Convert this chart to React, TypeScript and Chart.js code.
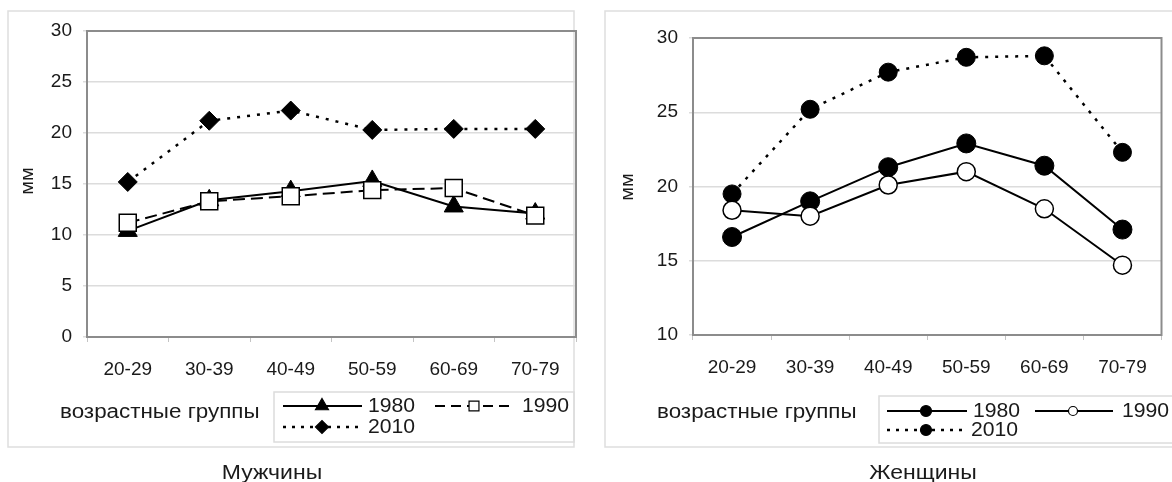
import React, { useEffect, useRef } from "react";
import { Chart, registerables } from "chart.js";

Chart.register(...registerables);

// ---------- data ----------
const ageGroups = ["20-29", "30-39", "40-49", "50-59", "60-69", "70-79"];
const seriesYears = ["1980", "1990", "2010"];

const men1980 = [10.4, 13.4, 14.3, 15.3, 12.8, 12.1];
const men1990 = [11.2, 13.3, 13.8, 14.4, 14.6, 11.9];
const men2010 = [15.2, 21.2, 22.2, 20.3, 20.4, 20.4];

const women1980 = [16.6, 19.0, 21.3, 22.9, 21.4, 17.1];
const women1990 = [18.4, 18.0, 20.1, 21.0, 18.5, 14.7];
const women2010 = [19.5, 25.2, 27.7, 28.7, 28.8, 22.3];

const menTicks = [0, 30, 5];
const womenTicks = [10, 30, 5];

const axisTitle = "мм";
const groupLabel = "возрастные группы";
const menTitle = "Мужчины";
const womenTitle = "Женщины";

// ---------- styling helpers ----------
const FONT = '"Liberation Sans", Arial, Helvetica, sans-serif';
const INK = "#1a1a1a";
const H = 482;

type Marker = "triangle" | "rect" | "rectRot" | "circle";

function drawText(
  ctx: CanvasRenderingContext2D,
  s: string,
  x: number,
  y: number,
  size: number,
  align: "left" | "center" | "right",
  sx: number,
  rotate = false
) {
  ctx.save();
  ctx.font = `${size}px ${FONT}`;
  ctx.fillStyle = INK;
  ctx.textBaseline = "middle";
  ctx.textAlign = "left";
  const w = ctx.measureText(s).width * sx;
  if (rotate) {
    ctx.translate(x, y);
    ctx.rotate(-Math.PI / 2);
    ctx.scale(sx, 1);
    ctx.fillText(s, -w / sx / 2, 0);
  } else {
    const left = align === "left" ? x : align === "center" ? x - w / 2 : x - w;
    ctx.translate(left, y);
    ctx.scale(sx, 1);
    ctx.fillText(s, 0, 0);
  }
  ctx.restore();
}

function drawMarker(
  ctx: CanvasRenderingContext2D,
  m: Marker,
  x: number,
  y: number,
  r: number,
  fill: string
) {
  ctx.save();
  ctx.setLineDash([]);
  ctx.lineWidth = 1.2;
  ctx.strokeStyle = "#000";
  ctx.fillStyle = fill;
  ctx.beginPath();
  if (m === "triangle") {
    ctx.moveTo(x, y - r);
    ctx.lineTo(x + r * 0.866, y + r * 0.5);
    ctx.lineTo(x - r * 0.866, y + r * 0.5);
    ctx.closePath();
  } else if (m === "rect") {
    const s = r * Math.SQRT1_2;
    ctx.rect(x - s, y - s, 2 * s, 2 * s);
  } else if (m === "rectRot") {
    ctx.moveTo(x - r, y);
    ctx.lineTo(x, y - r);
    ctx.lineTo(x + r, y);
    ctx.lineTo(x, y + r);
    ctx.closePath();
  } else {
    ctx.arc(x, y, r, 0, Math.PI * 2);
  }
  ctx.fill();
  ctx.stroke();
  ctx.restore();
}

interface LegendEntry {
  label: string;
  x1: number;
  x2: number;
  mx: number;
  tx: number;
  y: number;
  dash: number[];
  lw: number;
  marker: Marker;
  mr: number;
  fill: string;
}

interface Panel {
  width: number;
  plotLeft: number;
  plotRight: number;
  plotTop: number;
  plotBottom: number;
  ticks: number[];
  box: number[];
  legendBox: number[];
  axisTitlePos: number[];
  groupPos: number[];
  title: string;
  titlePos: number[];
  legend: LegendEntry[];
}

function makeChart(canvas: HTMLCanvasElement, panel: Panel, datasets: any[]) {
  const tickFont = { family: FONT, size: 19 };
  const decor = {
    id: "panelDecor",
    beforeDraw(chart: any) {
      const ctx: CanvasRenderingContext2D = chart.ctx;
      ctx.save();
      ctx.fillStyle = "#ffffff";
      ctx.fillRect(0, 0, chart.width, chart.height);
      ctx.strokeStyle = "#dedede";
      ctx.lineWidth = 1.5;
      const [bx, by, bw, bh] = panel.box;
      ctx.strokeRect(bx, by, bw, bh);
      ctx.restore();
    },
    beforeDatasetsDraw(chart: any) {
      const ctx: CanvasRenderingContext2D = chart.ctx;
      const a = chart.chartArea;
      ctx.save();
      ctx.strokeStyle = "#8c8c8c";
      ctx.lineWidth = 2;
      ctx.strokeRect(a.left, a.top, a.right - a.left, a.bottom - a.top);
      ctx.restore();
    },
    afterDraw(chart: any) {
      const ctx: CanvasRenderingContext2D = chart.ctx;
      ctx.save();
      ctx.strokeStyle = "#dcdcdc";
      ctx.lineWidth = 1.5;
      const [lx, ly, lw, lh] = panel.legendBox;
      ctx.strokeRect(lx, ly, lw, lh);
      ctx.restore();
      for (const e of panel.legend) {
        ctx.save();
        ctx.strokeStyle = "#000";
        ctx.lineWidth = e.lw;
        ctx.setLineDash(e.dash);
        ctx.beginPath();
        ctx.moveTo(e.x1, e.y);
        ctx.lineTo(e.x2, e.y);
        ctx.stroke();
        ctx.restore();
        drawMarker(ctx, e.marker, e.mx, e.y, e.mr, e.fill);
        drawText(ctx, e.label, e.tx, e.y, 20, "left", 1.06);
      }
      drawText(ctx, groupLabel, panel.groupPos[0], panel.groupPos[1], 20, "left", 1.12);
      drawText(ctx, axisTitle, panel.axisTitlePos[0], panel.axisTitlePos[1], 19, "center", 1.05, true);
      drawText(ctx, panel.title, panel.titlePos[0], panel.titlePos[1], 20, "center", 1.15);
    },
  };

  return new Chart(canvas, {
    type: "line",
    data: { labels: ageGroups, datasets },
    options: {
      responsive: false,
      animation: false,
      events: [],
      layout: {
        padding: {
          left: 0,
          right: panel.width - panel.plotRight,
          top: panel.plotTop,
          bottom: H - panel.plotBottom - 40,
        },
      },
      plugins: { legend: { display: false }, title: { display: false }, tooltip: { enabled: false } },
      scales: {
        x: {
          type: "category",
          offset: true,
          grid: { offset: true, drawOnChartArea: false, drawTicks: true, tickLength: 5, color: "#c4c4c4", lineWidth: 1 },
          border: { display: false },
          ticks: { font: tickFont, color: INK, padding: 16, maxRotation: 0, autoSkip: false },
          afterFit: (s: any) => {
            s.height = 40;
          },
        },
        y: {
          min: panel.ticks[0],
          max: panel.ticks[1],
          ticks: { stepSize: panel.ticks[2], font: tickFont, color: INK, padding: 11 },
          grid: { color: "#dcdcdc", lineWidth: 1.5, tickLength: 4 },
          border: { display: false },
          afterFit: (s: any) => {
            s.width = panel.plotLeft;
          },
        },
      },
    },
    plugins: [decor],
  } as any);
}

const menPanel: Panel = {
  width: 590,
  plotLeft: 87,
  plotRight: 576,
  plotTop: 31,
  plotBottom: 337,
  ticks: menTicks,
  box: [8, 11, 566, 436],
  legendBox: [274, 392, 300, 50],
  axisTitlePos: [27.5, 181],
  groupPos: [60, 412],
  title: menTitle,
  titlePos: [272, 473],
  legend: [
    { label: seriesYears[0], x1: 283, x2: 362, mx: 322, tx: 368, y: 406, dash: [], lw: 2, marker: "triangle", mr: 7.5, fill: "#000" },
    { label: seriesYears[1], x1: 435, x2: 512, mx: 474, tx: 522, y: 406, dash: [10, 6], lw: 2, marker: "rect", mr: 7, fill: "#fff" },
    { label: seriesYears[2], x1: 283, x2: 361, mx: 322, tx: 368, y: 427, dash: [3, 6], lw: 2.5, marker: "rectRot", mr: 6.5, fill: "#000" },
  ],
};

const womenPanel: Panel = {
  width: 582,
  plotLeft: 103,
  plotRight: 581,
  plotTop: 38,
  plotBottom: 335,
  ticks: womenTicks,
  box: [15, 11, 600, 436],
  legendBox: [289, 396, 320, 47],
  axisTitlePos: [37.5, 187],
  groupPos: [67, 412],
  title: womenTitle,
  titlePos: [333, 473],
  legend: [
    { label: seriesYears[0], x1: 297, x2: 377, mx: 336, tx: 383, y: 411, dash: [], lw: 2, marker: "circle", mr: 5.5, fill: "#000" },
    { label: seriesYears[1], x1: 445, x2: 523, mx: 483, tx: 532, y: 411, dash: [], lw: 2, marker: "circle", mr: 4.5, fill: "#fff" },
    { label: seriesYears[2], x1: 297, x2: 375, mx: 336, tx: 381, y: 430, dash: [3, 6], lw: 2.5, marker: "circle", mr: 5.5, fill: "#000" },
  ],
};

const menSets = [
  {
    label: seriesYears[0],
    data: men1980,
    borderColor: "#000",
    borderWidth: 2,
    pointStyle: "triangle",
    pointRadius: 11,
    pointBackgroundColor: "#000",
    pointBorderColor: "#000",
    pointBorderWidth: 1,
    tension: 0,
    order: 2,
  },
  {
    label: seriesYears[1],
    data: men1990,
    borderColor: "#000",
    borderWidth: 2,
    borderDash: [12, 6],
    pointStyle: "rect",
    pointRadius: 12,
    pointBackgroundColor: "#fff",
    pointBorderColor: "#000",
    pointBorderWidth: 1.5,
    tension: 0,
    order: 1,
  },
  {
    label: seriesYears[2],
    data: men2010,
    borderColor: "#000",
    borderWidth: 2.5,
    borderDash: [3, 7],
    pointStyle: "rectRot",
    pointRadius: 9.5,
    pointBackgroundColor: "#000",
    pointBorderColor: "#000",
    pointBorderWidth: 1,
    tension: 0,
    order: 3,
  },
];

const womenSets = [
  {
    label: seriesYears[0],
    data: women1980,
    borderColor: "#000",
    borderWidth: 2,
    pointStyle: "circle",
    pointRadius: 9.5,
    pointBackgroundColor: "#000",
    pointBorderColor: "#000",
    pointBorderWidth: 1,
    tension: 0,
    order: 2,
  },
  {
    label: seriesYears[1],
    data: women1990,
    borderColor: "#000",
    borderWidth: 2,
    pointStyle: "circle",
    pointRadius: 9,
    pointBackgroundColor: "#fff",
    pointBorderColor: "#000",
    pointBorderWidth: 1.5,
    tension: 0,
    order: 1,
  },
  {
    label: seriesYears[2],
    data: women2010,
    borderColor: "#000",
    borderWidth: 2.5,
    borderDash: [3, 7],
    pointStyle: "circle",
    pointRadius: 9,
    pointBackgroundColor: "#000",
    pointBorderColor: "#000",
    pointBorderWidth: 1,
    tension: 0,
    order: 3,
  },
];

export default function App() {
  const leftRef = useRef<HTMLCanvasElement>(null);
  const rightRef = useRef<HTMLCanvasElement>(null);

  useEffect(() => {
    const c1 = makeChart(leftRef.current!, menPanel, menSets);
    const c2 = makeChart(rightRef.current!, womenPanel, womenSets);
    return () => {
      c1.destroy();
      c2.destroy();
    };
  }, []);

  return (
    <div style={{ position: "fixed", left: 0, top: 0, width: 1172, height: 482, background: "#fff", overflow: "hidden" }}>
      <canvas ref={leftRef} width={590} height={482} style={{ position: "absolute", left: 0, top: 0 }} />
      <canvas ref={rightRef} width={582} height={482} style={{ position: "absolute", left: 590, top: 0 }} />
    </div>
  );
}
